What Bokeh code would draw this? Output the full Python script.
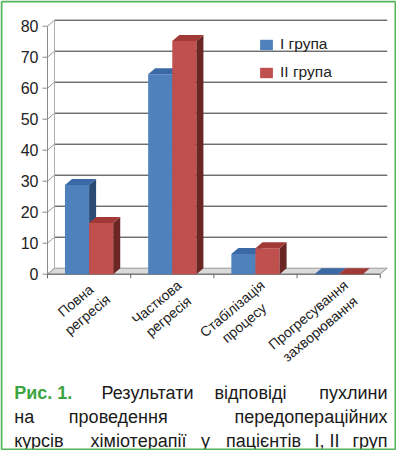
import math
from bokeh.plotting import figure
from bokeh.models import Range1d, Legend, LegendItem
from bokeh.core.properties import value
from bokeh.embed import file_html
from bokeh.resources import INLINE

# ---- data ----
categories = ["Повна\nрегресія", "Часткова\nрегресія", "Стабілізація\nпроцесу", "Прогресування\nзахворювання"]
group1 = [28.8, 64.5, 6.5, 0.0]
group2 = [16.5, 75.2, 8.4, 0.0]
series_names = ["I група", "II група"]
y_ticks = [0, 10, 20, 30, 40, 50, 60, 70, 80]
caption_lines = [
    [("Рис. 1.", "left", 13.7, True), ("Результати", "center", 147, False),
     ("відповіді", "center", 250, False), ("пухлини", "right", 387, False)],
    [("на", "left", 13.7, False), ("проведення", "center", 117.8, False),
     ("передопераційних", "right", 387, False)],
    [("курсів", "left", 13.7, False), ("хіміотерапії", "center", 138, False),
     ("у", "center", 205, False), ("пацієнтів", "center", 263, False),
     ("І,", "center", 319, False), ("ІІ", "center", 334, False),
     ("груп", "right", 387, False)],
]

# ---- layout / styles ----
W, H = 396, 450
X0_PX = 47          # canvas x of the front-left chart corner
Y0_PX = 273.7       # canvas y of value 0 (front)
PX_X = 83.19        # pixels per category
PX_Y = 3.1          # pixels per value unit
FONT = "Liberation Sans"
front_cols = ["#4f81bd", "#c0504d"]
top_cols = ["#3b69a6", "#a13a37"]
side_cols = ["#2b4a74", "#6b2523"]
GREEN = "#55b458"

def cx(px):
    return (px - X0_PX) / PX_X

def cy(py):
    return (Y0_PX - py) / PX_Y

n = len(categories)
p = figure(width=W, height=H, output_backend="svg", toolbar_location=None,
           x_range=Range1d(cx(0), cx(W)), y_range=Range1d(cy(H), cy(0)),
           x_axis_location=None, y_axis_location=None,
           min_border_left=0, min_border_right=0, min_border_top=0, min_border_bottom=0,
           background_fill_color="white", border_fill_color="white",
           outline_line_color=None)
p.xgrid.visible = False
p.ygrid.visible = False

dx = 7 / PX_X
dy = 6 / PX_Y

# value axis (front edge of the side wall)
p.segment(x0=[0], y0=[y_ticks[0]], x1=[0], y1=[y_ticks[-1]], line_color="#8a8a8a", line_width=1)
p.segment(x0=[0] * len(y_ticks), y0=y_ticks, x1=[-5 / PX_X] * len(y_ticks), y1=y_ticks,
          line_color="#8a8a8a", line_width=1)
p.text(x=[0] * len(y_ticks), y=y_ticks, text=[str(t) for t in y_ticks], x_offset=-9,
       text_align="right", text_baseline="middle", text_font=value(FONT),
       text_font_size="16px", text_color="#222222")

# back wall gridlines & side wall
grid_t = [t for t in y_ticks if t > 0]
p.segment(x0=[dx] * len(grid_t), y0=[t + dy for t in grid_t],
          x1=[n + dx] * len(grid_t), y1=[t + dy for t in grid_t],
          line_color="#2e2e2e", line_width=1)
p.segment(x0=[0] * len(y_ticks), y0=y_ticks, x1=[dx] * len(y_ticks),
          y1=[t + dy for t in y_ticks], line_color="#9a9a9a", line_width=1)
p.segment(x0=[dx], y0=[dy], x1=[dx], y1=[y_ticks[-1] + dy], line_color="#b0b0b0", line_width=1)

# floor
p.patch(x=[0, n, n + dx, dx], y=[0, 0, dy, dy], fill_color="#dadada",
        line_color="#9a9a9a", line_width=1)
p.segment(x0=[0], y0=[0], x1=[n], y1=[0], line_color="#666666", line_width=1)
p.segment(x0=list(range(n + 1)), y0=[0] * (n + 1), x1=list(range(n + 1)),
          y1=[-4 / PX_Y] * (n + 1), line_color="#666666", line_width=1)

# bars
bw = 0.29
renderers = []
for g, vals in enumerate([group1, group2]):
    xs_c = [i + 0.5 + (g - 0.5) * bw for i in range(n)]
    r = p.vbar(x=xs_c, top=vals, bottom=0, width=bw, fill_color=front_cols[g],
               line_color=None)
    renderers.append(r)
    side_xs, side_ys, top_xs, top_ys = [], [], [], []
    for xc, v in zip(xs_c, vals):
        xl, xr = xc - bw / 2, xc + bw / 2
        side_xs.append([xr, xr + dx, xr + dx, xr])
        side_ys.append([0, dy, v + dy, v])
        top_xs.append([xl, xl + dx, xr + dx, xr])
        top_ys.append([v, v + dy, v + dy, v])
    p.patches(xs=side_xs, ys=side_ys, fill_color=side_cols[g], line_color=None)
    p.patches(xs=top_xs, ys=top_ys, fill_color=top_cols[g], line_color=None)

# category labels
p.text(x=[i + 0.5 for i in range(n)], y=[0] * n, text=categories,
       angle=math.radians(40), anchor=value("center_right"), text_align="center",
       text_baseline="middle", x_offset=13, y_offset=16,
       text_font=value(FONT), text_font_size="14px", text_color="#222222",
       text_line_height=1.15)

legend = Legend(items=[LegendItem(label=series_names[k], renderers=[renderers[k]]) for k in range(2)],
                location=(258, H - 81), orientation="vertical",
                glyph_width=16, glyph_height=13, label_height=13, spacing=10,
                label_standoff=6, padding=2, margin=0,
                background_fill_alpha=0, border_line_color=None,
                label_text_font=FONT, label_text_font_size="15.5px", label_text_color="#222222")
p.add_layout(legend)

# caption
baselines = [392, 416, 440]
for line, yb in zip(caption_lines, baselines):
    for word, align, xw, bold in line:
        p.text(x=[cx(xw)], y=[cy(yb)], text=[word], text_align=align, text_baseline="alphabetic",
               text_font=value(FONT), text_font_size="18px",
               text_font_style="bold" if bold else "normal",
               text_color="#3aa43f" if bold else "#1a1a1a")

# green frame around the figure
bx0, bx1, by0, by1 = cx(1), cx(W - 1), cy(1), cy(H - 1)
p.segment(x0=[bx0, bx0, bx0, bx1], y0=[by0, by1, by0, by0],
          x1=[bx1, bx1, bx0, bx1], y1=[by0, by1, by1, by1],
          line_color=GREEN, line_width=2)

open("out.html", "w").write(file_html(p, INLINE))
